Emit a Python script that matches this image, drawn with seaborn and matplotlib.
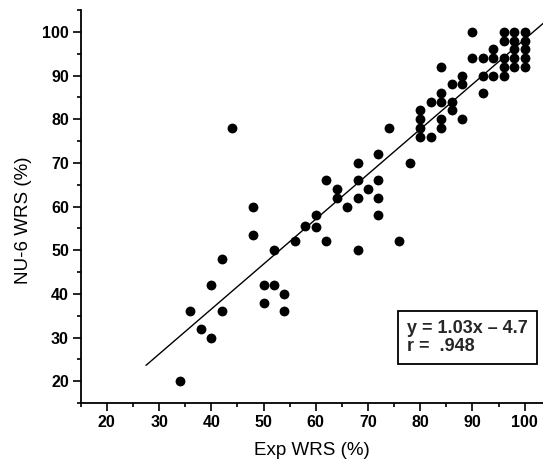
import numpy as np
import pandas as pd
import seaborn as sns
from matplotlib import pyplot as plt
from matplotlib.ticker import MultipleLocator

# Exp WRS (%) vs NU-6 WRS (%)
exp_wrs = [34, 36, 38, 40, 40, 42, 42, 44, 48, 48,
           50, 50, 52, 52, 54, 54, 56, 58, 60, 60,
           62, 62, 64, 64, 66, 68, 68, 68, 68, 70,
           72, 72, 72, 72, 74, 76, 78,
           80, 80, 80, 80, 82, 82,
           84, 84, 84, 84, 84, 86, 86, 86, 88, 88, 88,
           90, 90, 92, 92, 92, 94, 94, 94,
           96, 96, 96, 96, 96, 98, 98, 98, 98, 98,
           100, 100, 100, 100, 100]
nu6_wrs = [20, 36, 32, 30, 42, 48, 36, 78, 60, 53.4,
           42, 38, 50, 42, 40, 36, 52, 55.5, 58, 55.3,
           66, 52, 64, 62, 60, 70, 66, 62, 50, 64,
           72, 66, 62, 58, 78, 52, 70,
           82, 80, 78, 76, 84, 76,
           92, 86, 84, 80, 78, 88, 84, 82, 90, 88, 80,
           100, 94, 94, 90, 86, 96, 94, 90,
           100, 98, 94, 92, 90, 100, 98, 96, 94, 92,
           100, 98, 96, 94, 92]

# fitted line shown in the figure
slope = 1.03
intercept = -4.7
fit_x = [27.5, 105]
fit_label = "y = 1.03x \u2013 4.7\nr =  .948"

df = pd.DataFrame({"exp": exp_wrs, "nu6": nu6_wrs})

sns.set_theme(style="ticks")
plt.rcParams["font.family"] = ["Liberation Sans", "DejaVu Sans"]

fig = plt.figure(figsize=(5.43, 4.65), dpi=100)
ax = fig.add_axes([0.1486, 0.1333, 0.8514, 0.8452])

sns.scatterplot(data=df, x="exp", y="nu6", ax=ax, color="black",
                s=50, edgecolor="black", linewidth=0, zorder=3)

fx = np.array(fit_x)
ax.plot(fx, slope * fx + intercept, color="black", lw=1.0, zorder=2)

ax.set_xlim(15, 103.5)
ax.set_ylim(15, 105)
ax.xaxis.set_minor_locator(MultipleLocator(5))
ax.yaxis.set_minor_locator(MultipleLocator(5))
ax.set_xticks(range(20, 101, 10))
ax.set_yticks(range(20, 101, 10))
ax.tick_params(which="major", direction="out", length=6, width=1.2, pad=2.5,
               labelsize=11.5, color="black", labelcolor="black")
ax.tick_params(which="minor", direction="out", length=3, width=1.2, color="black")
for lab in ax.get_xticklabels() + ax.get_yticklabels():
    lab.set_fontweight("bold")

for side in ["top", "right"]:
    ax.spines[side].set_visible(False)
for side in ["left", "bottom"]:
    ax.spines[side].set_linewidth(1.3)
    ax.spines[side].set_color("black")

ax.set_xlabel("Exp WRS (%)", fontsize=13.5, labelpad=9, color="black")
ax.set_ylabel("NU-6 WRS (%)", fontsize=13.5, color="black")
ax.yaxis.set_label_coords(-0.105, 0.466)

ax.text(0.7065, 0.167, fit_label, transform=ax.transAxes, fontsize=13,
        fontweight="bold", ha="left", va="center", linespacing=1.12,
        bbox=dict(boxstyle="square,pad=0.5", fc="white", ec="black", lw=1.3))

fig.savefig("out.png", dpi=100)
